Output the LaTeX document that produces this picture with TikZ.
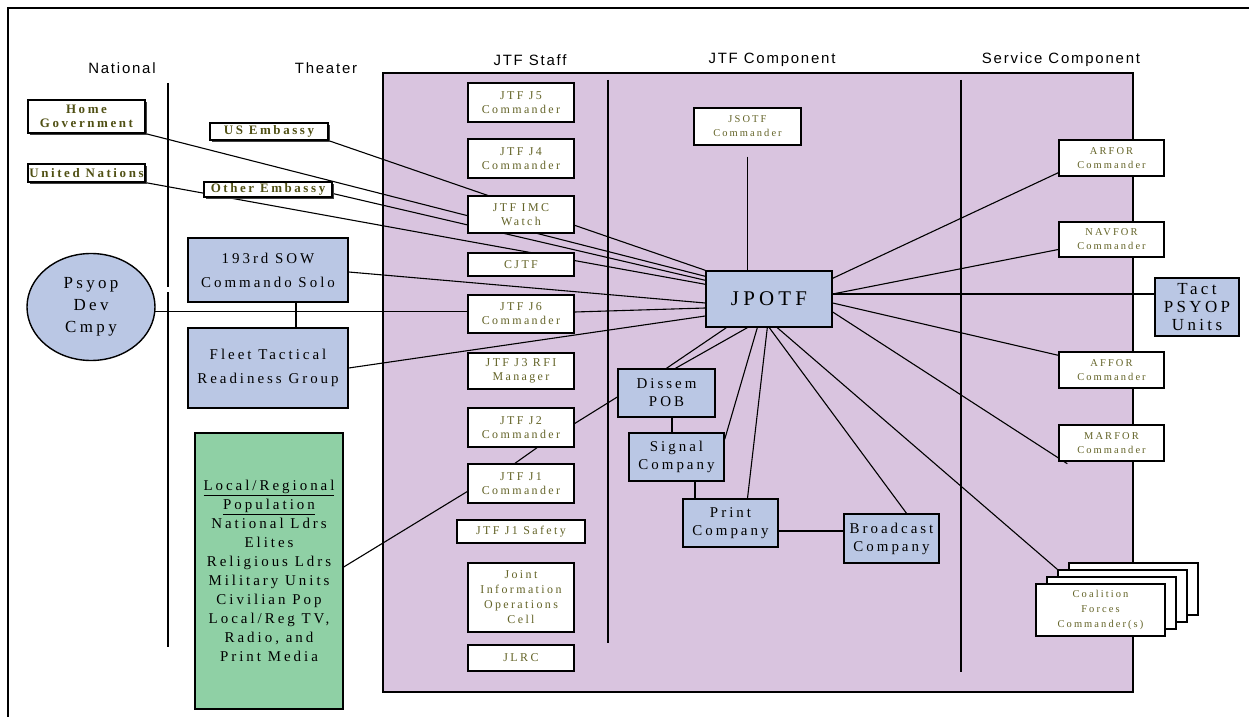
\documentclass[tikz,border=0pt]{standalone}
\usepackage{fontspec}
\setmainfont{Liberation Serif}
\newfontfamily\spacedserif[LetterSpace=20]{Liberation Serif}
\newfontfamily\spacedsans[LetterSpace=12]{Liberation Sans}
\usetikzlibrary{shapes.geometric,calc,shadows}
\definecolor{panelpurple}{RGB}{217,196,223}
\definecolor{unitblue}{RGB}{186,199,228}
\definecolor{popgreen}{RGB}{143,208,165}
\definecolor{olivetext}{RGB}{100,100,40}
\definecolor{olivedark}{RGB}{80,80,20}
\pgfdeclarelayer{panel}
\pgfdeclarelayer{wires}
\pgfsetlayers{panel,wires,main}

\begin{document}
\begin{tikzpicture}[x=1bp, y=-1bp,
    hd/.style={font=\spacedsans\fontsize{15}{18}\selectfont},
    staff/.style={rectangle, draw, line width=1.4bp, fill=white, minimum width=106bp,
                  inner sep=1bp, align=center, text=olivetext,
                  font=\spacedserif\fontsize{12}{14}\selectfont},
    svc/.style={staff, minimum width=105bp, font=\spacedserif\fontsize{10.5}{14}\selectfont},
    ext/.style={rectangle, draw, line width=1.3bp, fill=white, inner sep=1bp, align=center,
                text=olivedark, font=\spacedserif\bfseries\fontsize{13}{14}\selectfont,
                drop shadow={shadow xshift=2bp, shadow yshift=-2bp, opacity=1, fill=black!75}},
    unit/.style={rectangle, draw, line width=1.4bp, fill=unitblue, inner sep=1bp,
                 align=center, font=\spacedserif\fontsize{15}{18}\selectfont},
    wire/.style={line width=1.1bp},
    lane/.style={line width=1.6bp}]
\useasboundingbox (0,0) rectangle (1249,717);
% frame (only top and left edges fall inside)
\draw[lane] (8,717) -- (8,8) -- (1249,8);
% column headings
\node[hd] (hnat) at (122,68) {National};
\node[hd] (hthe) at (326,68) {Theater};
\node[hd] (hstf) at (530,60) {JTF Staff};
\node[hd] (hcmp) at (772,60) {JTF Component};
\node[hd] (hsvc) at (1061,60) {Service Component};
% joint task force panel
\begin{pgfonlayer}{panel}
\draw[lane, fill=panelpurple] (383,73) rectangle (1133,692);
\end{pgfonlayer}

% national / theater side
\node[ext, minimum width=117bp, minimum height=33bp] (home) at (86.5,116.5) {Home\\Government};
\node[ext, minimum width=117bp, minimum height=18bp] (un) at (86.5,173) {United Nations};
\node[ext, minimum width=118bp, minimum height=17bp] (usemb) at (269,131.5) {US Embassy};
\node[ext, minimum width=128bp, minimum height=15bp] (othemb) at (268,189.5) {Other Embassy};
\node[unit, minimum width=160bp, minimum height=64bp, font=\spacedserif\fontsize{15}{24}\selectfont]
  (sow) at (268,270) {193rd SOW\\Commando Solo};
\node[unit, minimum width=160bp, minimum height=80bp, font=\spacedserif\fontsize{15}{24}\selectfont]
  (fleet) at (268,368) {Fleet Tactical\\Readiness Group};
\node[unit, ellipse, minimum width=128bp, minimum height=107bp, inner sep=0pt,
      font=\spacedserif\fontsize{17}{22}\selectfont] (psyop) at (91,307) {Psyop\\Dev\\Cmpy};
\node[unit, fill=popgreen, minimum width=148bp, minimum height=276bp,
      font=\spacedserif\fontsize{15}{19}\selectfont] (pop) at (269,571)
  {\underline{Local/Regional}\\\underline{Population}\\National Ldrs\\Elites\\Religious Ldrs\\
   Military Units\\Civilian Pop\\Local/Reg TV,\\Radio, and\\Print Media};

% JTF staff column
\node[staff, minimum height=39bp] (j5) at (521,102.5) {JTF J5\\Commander};
\node[staff, minimum height=39bp] (j4) at (521,158.5) {JTF J4\\Commander};
\node[staff, minimum height=37bp] (imc) at (521,214.5) {JTF IMC\\Watch};
\node[staff, minimum height=23bp] (cjtf) at (521,264.5) {CJTF};
\node[staff, minimum height=38bp] (j6) at (521,314) {JTF J6\\Commander};
\node[staff, minimum height=36bp] (j3) at (521,371) {JTF J3 RFI\\Manager};
\node[staff, minimum height=39bp] (j2) at (521,427.5) {JTF J2\\Commander};
\node[staff, minimum height=39bp] (j1) at (521,483.5) {JTF J1\\Commander};
\node[staff, minimum width=128bp, minimum height=23bp] (j1s) at (521,531.5) {JTF J1 Safety};
\node[staff, minimum height=69bp, font=\spacedserif\fontsize{12}{15}\selectfont]
  (jioc) at (521,597.5) {Joint\\Information\\Operations\\Cell};
\node[staff, minimum height=26bp] (jlrc) at (521,658) {JLRC};

% JTF component column
\node[svc, minimum width=107bp, minimum height=37bp] (jsotf) at (747.5,126.5) {JSOTF\\Commander};
\node[unit, minimum width=126bp, minimum height=56bp, font=\spacedserif\fontsize{21}{24}\selectfont]
  (jpotf) at (769,299) {JPOTF};
\node[unit, minimum width=97bp, minimum height=48bp] (dissem) at (666.5,393) {Dissem\\POB};
\node[unit, minimum width=95bp, minimum height=48bp] (signal) at (676.5,457) {Signal\\Company};
\node[unit, minimum width=95bp, minimum height=48bp] (print) at (730.5,523) {Print\\Company};
\node[unit, minimum width=95bp, minimum height=49bp] (broad) at (891.5,538.5) {Broadcast\\Company};

% service component column
\node[svc, minimum height=36bp] (arfor) at (1111.5,158) {ARFOR\\Commander};
\node[svc, minimum height=35bp] (navfor) at (1111.5,239.5) {NAVFOR\\Commander};
\node[svc, minimum height=36bp] (affor) at (1111.5,370) {AFFOR\\Commander};
\node[svc, minimum height=36bp] (marfor) at (1111.5,443) {MARFOR\\Commander};
\node[unit, minimum width=84bp, minimum height=58bp, font=\spacedserif\fontsize{17}{18}\selectfont]
  (tact) at (1197,307) {Tact\\PSYOP\\Units};
\foreach \k in {3,2,1}
  \node[svc, minimum width=129bp, minimum height=52bp] (coal\k) at ({1100.5+11*\k},{610-7*\k}) {};
\node[svc, minimum width=129bp, minimum height=52bp, font=\spacedserif\fontsize{10.5}{15}\selectfont]
  (coal) at (1100.5,610) {Coalition\\Forces\\Commander(s)};

\begin{pgfonlayer}{wires}
% column dividers
\draw[lane] (168,83) -- (168,287);
\draw[lane] (168,292) -- (168,647);
\draw[lane] (608,80) -- (608,643);
\draw[lane] (961,80) -- (961,672);
% links into JPOTF from the left
\draw[wire] (usemb.south east) -- (jpotf.north west);
\draw[wire] (home.south east) -- ($(jpotf.north west)+(0,6)$);
\draw[wire] ($(othemb.east)+(0,4)$) -- ($(jpotf.north west)+(0,10)$);
\draw[wire] (un.south east) -- ($(jpotf.north west)+(0,14)$);
\draw[wire] ($(sow.east)+(0,2)$) -- ($(jpotf.west)+(0,4)$);
\draw[wire] (psyop.-4) coordinate (pj) -- (pj -| j6.west);
\draw[wire] ($(sow.south)+(28,0)$) coordinate (sf) -- (sf |- fleet.north);
\draw[wire] ($(j6.east)+(0,-2)$) -- ($(jpotf.west)+(0,9)$);
\draw[wire] (fleet.east) -- ($(jpotf.west)+(0,17)$);
\draw[wire, shorten <=11bp] (jsotf.south) -- (jsotf.south |- jpotf.north);
% staff links below
\draw[wire] ($(j2.east)+(0,-4)$) -- ($(dissem.west)+(0,4)$);
\draw[wire] ($(j2.south)+(16,0)$) -- ($(j1.north)+(-6,0)$);
\draw[wire] ($(pop.east)+(0,-4)$) -- ($(j1.west)+(0,8)$);
% links out of JPOTF to the right
\draw[wire] ($(jpotf.north east)+(0,8)$) -- ($(arfor.south west)+(0,-4)$);
\draw[wire] ($(jpotf.east)+(0,-5)$) -- ($(navfor.west)+(0,10)$);
\draw[wire] ($(jpotf.east)+(0,-5)$) coordinate (jt) -- (jt -| tact.west);
\draw[wire] ($(jpotf.east)+(0,4)$) -- ($(affor.north west)+(0,4)$);
\draw[wire] ($(jpotf.east)+(0,13)$) -- ($(marfor.south west)+(9,2)$);
\draw[wire] ($(jpotf.south west)+(72,0)$) -- (coal2.north west);
% dissemination chain
\draw[wire] ($(jpotf.south west)+(21,0)$) -- (dissem.north);
\draw[wire] ($(jpotf.south west)+(42,0)$) -- ($(dissem.north)+(9,0)$);
\draw[wire] ($(jpotf.south west)+(52,0)$) -- ($(signal.north east)+(0,7)$);
\draw[wire] ($(jpotf.south west)+(62,0)$) -- ($(print.north)+(17,0)$);
\draw[wire] ($(jpotf.south west)+(64,0)$) -- ($(broad.north)+(15,0)$);
\draw[wire] ($(dissem.south)+(5.5,0)$) coordinate (ds) -- (ds |- signal.north);
\draw[wire] ($(signal.south)+(18.5,0)$) coordinate (sp) -- (sp |- print.north);
\draw[wire] ($(print.east)+(0,8)$) coordinate (pb) -- (pb -| broad.west);
\end{pgfonlayer}
\end{tikzpicture}
\end{document}
